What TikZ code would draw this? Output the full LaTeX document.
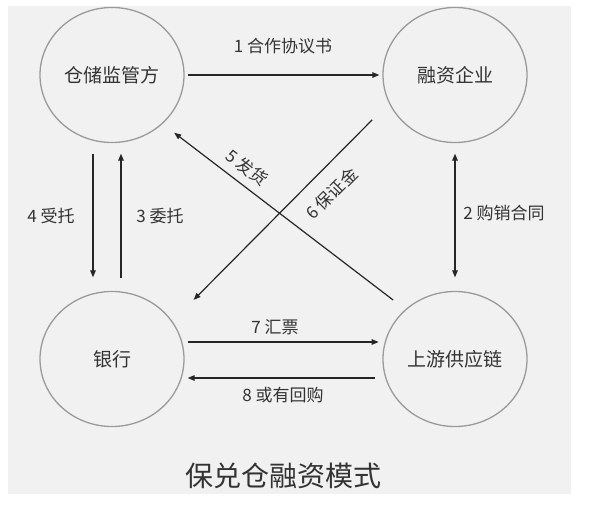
\documentclass[tikz,border=0pt]{standalone}
\usepackage{fontspec}
\setmainfont{Noto Sans CJK SC}
\usetikzlibrary{arrows.meta,shapes.geometric}

\definecolor{bg}{HTML}{F1F1F1}
\definecolor{ring}{HTML}{9A9A9A}
\definecolor{ink}{HTML}{333333}

\tikzset{
  party/.style={draw=ring,line width=1.3pt,ellipse,minimum width=144pt,minimum height=135pt,inner sep=0pt,font=\fontsize{19}{19}\selectfont,text=ink},
  flow/.style={draw=black!85,line width=1.2pt,-{Triangle[length=7pt,width=5.5pt]}},
  tag/.style={inner sep=0pt,font=\fontsize{17}{17}\selectfont,text=ink}
}

\begin{document}
\begin{tikzpicture}[x=1pt,y=-1pt]
\useasboundingbox (0,0) rectangle (594,504);
\fill[bg] (8,6) rectangle (571,494);

\node[party] (cangchu) at (112,75) {仓储监管方};
\node[party] (rongzi) at (455,75) {融资企业};
\node[party] (yinhang) at (112,359) {银行};
\node[party] (shangyou) at (455,359) {上游供应链};

\draw[flow,shorten <=3pt,shorten >=3pt] (cangchu.east) -- (rongzi.west);
\draw[flow,{Triangle[length=7pt,width=5.5pt]}-{Triangle[length=7pt,width=5.5pt]},shorten <=10.5pt,shorten >=13.5pt] (rongzi.south) -- (shangyou.north);
\draw[flow,shorten <=10.5pt,shorten >=13.5pt] ([xshift=-19pt]cangchu.south) -- ([xshift=-19pt]yinhang.north);
\draw[flow,shorten <=12.5pt,shorten >=10.5pt] ([xshift=9pt]yinhang.north) -- ([xshift=9pt]cangchu.south);
\draw[flow,shorten <=15.3pt,shorten >=14.6pt] (shangyou.135.6) -- (cangchu.-44.8);
\draw[flow,shorten <=23.6pt,shorten >=30.1pt] (rongzi.203.4) -- (yinhang.32.3);
\draw[flow,shorten <=3pt,shorten >=3.7pt] ([yshift=17pt]yinhang.east) -- ([yshift=17pt]shangyou.west);
\draw[flow,shorten <=7.7pt,shorten >=3pt] ([yshift=-19pt]shangyou.west) -- ([yshift=-19pt]yinhang.east);

\node[tag] (t1) at (283,46) {1 合作协议书};
\node[tag] (t2) at (504,213) {2 购销合同};
\node[tag] (t3) at (160,216) {3 委托};
\node[tag] (t4) at (51,216) {4 受托};
\node[tag,rotate=-37.4] (t5) at (246.7,167.5) {5 发货};
\node[tag,rotate=45] (t6) at (331.7,193.3) {6 保证金};
\node[tag] (t7) at (275,327) {7 汇票};
\node[tag] (t8) at (283,395) {8 或有回购};

\node[font=\fontsize{28}{28}\selectfont,text=ink] (title) at (283,476) {保兑仓融资模式};

\end{tikzpicture}
\end{document}
